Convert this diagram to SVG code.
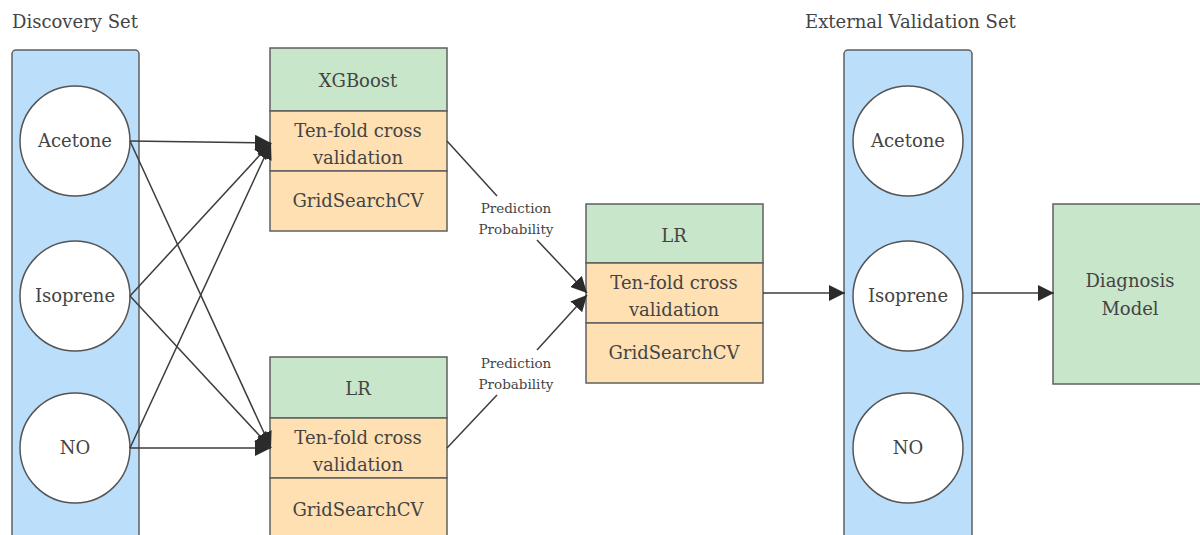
<svg xmlns="http://www.w3.org/2000/svg" width="1200" height="535" viewBox="0 0 1200 535">
  <defs>
    <marker id="arrow" viewBox="0 0 10 10" refX="10" refY="5" markerWidth="16" markerHeight="16" markerUnits="userSpaceOnUse" orient="auto">
      <path d="M0,0 L10,5 L0,10 Z" fill="#2b2b2b"/>
    </marker>
  </defs>
  <style>
    .title { font-size: 18px; }
    .lbl { font-size: 18px; text-anchor: middle; }
    .small { font-size: 13.5px; text-anchor: middle; }
    .set { fill: #bbdefb; stroke: #5f5f5f; stroke-width: 1.5; }
    .feat { fill: #ffffff; stroke: #555555; stroke-width: 1.5; }
    .head { fill: #c8e6c9; stroke: #5f5f5f; stroke-width: 1.5; }
    .step { fill: #ffe0b2; stroke: #5f5f5f; stroke-width: 1.5; }
    .edge { fill: none; stroke: #3c3c3c; stroke-width: 1.5; }
    .arr { marker-end: url(#arrow); }
  </style>

  <rect width="1200" height="535" fill="#ffffff"/>

  <g font-family="'DejaVu Serif', 'Liberation Serif', serif" fill="#444444">
  <text class="title" x="12" y="28">Discovery Set</text>
  <text class="title" x="805" y="28">External Validation Set</text>

  <!-- discovery set -->
  <g id="discovery-set">
    <rect class="set" x="12" y="50" width="127" height="500" rx="4"/>
  </g>
  <g id="disc-acetone">
    <circle class="feat" cx="75" cy="141" r="55"/>
    <text class="lbl" x="75" y="147">Acetone</text>
  </g>
  <g id="disc-isoprene">
    <circle class="feat" cx="75" cy="296" r="55"/>
    <text class="lbl" x="75" y="302">Isoprene</text>
  </g>
  <g id="disc-no">
    <circle class="feat" cx="75" cy="448" r="55"/>
    <text class="lbl" x="75" y="454">NO</text>
  </g>

  <!-- first-level models -->
  <g id="xgboost">
    <rect class="head" x="270" y="48" width="177" height="63"/>
    <rect class="step" x="270" y="111" width="177" height="60"/>
    <rect class="step" x="270" y="171" width="177" height="60"/>
    <text class="lbl" x="358" y="87">XGBoost</text>
    <text class="lbl" x="358" y="137">Ten-fold cross</text>
    <text class="lbl" x="358" y="164">validation</text>
    <text class="lbl" x="358" y="207">GridSearchCV</text>
  </g>
  <g id="lr-base">
    <rect class="head" x="270" y="357" width="177" height="61"/>
    <rect class="step" x="270" y="418" width="177" height="60"/>
    <rect class="step" x="270" y="478" width="177" height="62"/>
    <text class="lbl" x="358" y="395">LR</text>
    <text class="lbl" x="358" y="444">Ten-fold cross</text>
    <text class="lbl" x="358" y="471">validation</text>
    <text class="lbl" x="358" y="516">GridSearchCV</text>
  </g>

  <!-- meta model -->
  <g id="lr-meta">
    <rect class="head" x="586" y="204" width="177" height="59"/>
    <rect class="step" x="586" y="263" width="177" height="60"/>
    <rect class="step" x="586" y="323" width="177" height="60"/>
    <text class="lbl" x="674" y="242">LR</text>
    <text class="lbl" x="674" y="289">Ten-fold cross</text>
    <text class="lbl" x="674" y="316">validation</text>
    <text class="lbl" x="674" y="359">GridSearchCV</text>
  </g>

  <!-- external validation set -->
  <g id="external-set">
    <rect class="set" x="844" y="50" width="128" height="500" rx="4"/>
  </g>
  <g id="ext-acetone">
    <circle class="feat" cx="908" cy="141" r="55"/>
    <text class="lbl" x="908" y="147">Acetone</text>
  </g>
  <g id="ext-isoprene">
    <circle class="feat" cx="908" cy="296" r="55"/>
    <text class="lbl" x="908" y="302">Isoprene</text>
  </g>
  <g id="ext-no">
    <circle class="feat" cx="908" cy="448" r="55"/>
    <text class="lbl" x="908" y="454">NO</text>
  </g>

  <g id="diagnosis-model">
    <rect class="head" x="1053" y="204" width="160" height="180"/>
    <text class="lbl" x="1130" y="287">Diagnosis</text>
    <text class="lbl" x="1130" y="315">Model</text>
  </g>

  <!-- connectors -->
  <g id="connectors">
    <line class="edge arr" x1="130" y1="141" x2="271" y2="143"/>
    <line class="edge arr" x1="130" y1="141" x2="271" y2="448"/>
    <line class="edge arr" x1="130" y1="296" x2="271" y2="143"/>
    <line class="edge arr" x1="130" y1="296" x2="271" y2="448"/>
    <line class="edge arr" x1="130" y1="448" x2="271" y2="143"/>
    <line class="edge arr" x1="130" y1="448" x2="271" y2="448"/>

    <line class="edge" x1="447" y1="141" x2="497" y2="196"/>
    <line class="edge arr" x1="537" y1="240" x2="587" y2="293"/>
    <text class="small" x="516" y="213">Prediction</text>
    <text class="small" x="516" y="234">Probability</text>

    <line class="edge" x1="447" y1="448" x2="497" y2="395"/>
    <line class="edge arr" x1="537" y1="350" x2="587" y2="295"/>
    <text class="small" x="516" y="368">Prediction</text>
    <text class="small" x="516" y="389">Probability</text>

    <line class="edge arr" x1="763" y1="293" x2="845" y2="293"/>
    <line class="edge arr" x1="972" y1="293" x2="1054" y2="293"/>
  </g>
  </g>
</svg>
